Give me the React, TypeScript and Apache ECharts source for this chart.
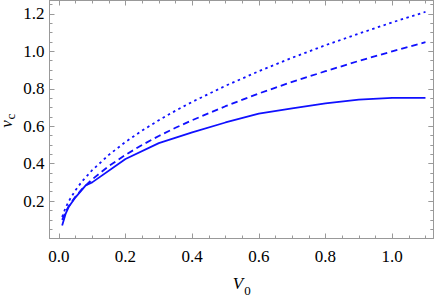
import React, { useEffect, useRef } from "react";
import * as echarts from "echarts";

// x values shared by the dashed and dotted curves
const V0 = [0.01, 0.02, 0.03, 0.05, 0.07, 0.1, 0.15, 0.2, 0.25, 0.3, 0.35, 0.4, 0.5, 0.6, 0.7, 0.8, 0.9, 1.0, 1.1];
const dashedVc = [0.1, 0.141, 0.173, 0.224, 0.265, 0.316, 0.387, 0.447, 0.5, 0.548, 0.592, 0.632, 0.707, 0.775, 0.837, 0.894, 0.949, 1.0, 1.049];
const dottedVc = [0.115, 0.163, 0.2, 0.258, 0.306, 0.365, 0.447, 0.516, 0.577, 0.632, 0.683, 0.73, 0.816, 0.894, 0.966, 1.033, 1.095, 1.155, 1.211];

// solid curve
const solidV0 = [0.01, 0.02, 0.03, 0.05, 0.08, 0.1, 0.2, 0.3, 0.4, 0.5, 0.6, 0.7, 0.8, 0.9, 1.0, 1.1];
const solidVc = [0.07, 0.13, 0.17, 0.22, 0.283, 0.3, 0.425, 0.51, 0.567, 0.62, 0.667, 0.695, 0.722, 0.742, 0.752, 0.752];

// ticks
const xMajorTicks = [0, 0.2, 0.4, 0.6, 0.8, 1.0];
const xMinorTicks = [0.05, 0.1, 0.15, 0.25, 0.3, 0.35, 0.45, 0.5, 0.55, 0.65, 0.7, 0.75, 0.85, 0.9, 0.95, 1.05, 1.1];
const yMajorTicks = [0.2, 0.4, 0.6, 0.8, 1.0, 1.2];
const yMinorTicks = [0.05, 0.1, 0.15, 0.25, 0.3, 0.35, 0.45, 0.5, 0.55, 0.65, 0.7, 0.75, 0.85, 0.9, 0.95, 1.05, 1.1, 1.15, 1.25];

const X_MIN = -0.028;
const X_MAX = 1.1235;
const Y_MIN = 0;
const Y_MAX = 1.272;

const FRAME = "#999999";
const BLUE = "#1010ff";
const FONT = "Liberation Serif, Times New Roman, serif";

function tickAxis(kind: "x" | "y", position: string, major: boolean) {
  const isX = kind === "x";
  const tickValues = isX ? (major ? xMajorTicks : xMinorTicks) : major ? yMajorTicks : yMinorTicks;
  return {
    type: "value",
    position,
    min: isX ? X_MIN : Y_MIN,
    max: isX ? X_MAX : Y_MAX,
    splitLine: { show: false },
    axisLine: { show: major, onZero: false, lineStyle: { color: FRAME, width: 1 } },
    axisTick: {
      show: true,
      inside: true,
      length: major ? 5 : 3,
      customValues: tickValues,
      lineStyle: { color: FRAME, width: 1 },
    },
    axisLabel: { show: false },
  };
}

function labelAxis(kind: "x" | "y") {
  const isX = kind === "x";
  return {
    type: "value",
    position: isX ? "bottom" : "left",
    min: isX ? X_MIN : Y_MIN,
    max: isX ? X_MAX : Y_MAX,
    splitLine: { show: false },
    axisLine: { show: false },
    axisTick: { show: false },
    axisLabel: {
      show: true,
      customValues: isX ? xMajorTicks : yMajorTicks,
      formatter: (v: number) => Number(v).toFixed(1),
      fontFamily: FONT,
      fontStyle: "normal",
      fontWeight: "normal",
      fontSize: 17,
      color: "#000000",
      margin: isX ? 9 : 5,
    },
  };
}

export default function App() {
  const ref = useRef<HTMLDivElement>(null);
  useEffect(() => {
    if (!ref.current) return;
    document.body.style.margin = "0";
    const chart = echarts.init(ref.current, undefined, { renderer: "svg" });
    const line = (xs: number[], ys: number[], type: any) => ({
      type: "line",
      xAxisIndex: 0,
      yAxisIndex: 0,
      data: xs.map((x, i) => [x, ys[i]]),
      showSymbol: false,
      symbol: "none",
      smooth: false,
      lineStyle: { color: BLUE, width: 1.8, type, cap: "butt" },
      z: 5,
    });
    chart.setOption({
      animation: false,
      textStyle: { fontFamily: FONT },
      grid: { left: 49.5, right: 2.7, top: 0.5, bottom: 58.5, containLabel: false, outerBoundsMode: "none" },
      xAxis: [
        tickAxis("x", "bottom", true),
        tickAxis("x", "bottom", false),
        tickAxis("x", "top", true),
        tickAxis("x", "top", false),
        labelAxis("x"),
      ],
      yAxis: [
        tickAxis("y", "left", true),
        tickAxis("y", "left", false),
        tickAxis("y", "right", true),
        tickAxis("y", "right", false),
        labelAxis("y"),
      ],
      series: [
        line(solidV0, solidVc, "solid"),
        line(V0, dashedVc, [6.5, 4]),
        line(V0, dottedVc, [2.5, 3.5]),
      ],
      graphic: [
        {
          type: "text",
          x: 238,
          y: 283.7,
          style: { text: "V", fontFamily: FONT, fontStyle: "italic", fontSize: 17, fill: "#000", align: "center", verticalAlign: "middle" },
        },
        {
          type: "text",
          x: 247.5,
          y: 290,
          style: { text: "0", fontFamily: FONT, fontSize: 13, fill: "#000", align: "center", verticalAlign: "middle" },
        },
        {
          type: "group",
          x: 0,
          y: 0,
          rotation: Math.PI / 2,
          children: [
            {
              type: "text",
              x: -124,
              y: 6.5,
              style: { text: "v", fontFamily: FONT, fontStyle: "italic", fontSize: 17, fill: "#000", align: "center", verticalAlign: "middle" },
            },
            {
              type: "text",
              x: -116.5,
              y: 10,
              style: { text: "c", fontFamily: FONT, fontSize: 13, fill: "#000", align: "center", verticalAlign: "middle" },
            },
          ],
        },
      ],
    });
    return () => chart.dispose();
  }, []);
  return <div ref={ref} style={{ position: "absolute", left: 0, top: 0, width: 436, height: 297 }} />;
}
